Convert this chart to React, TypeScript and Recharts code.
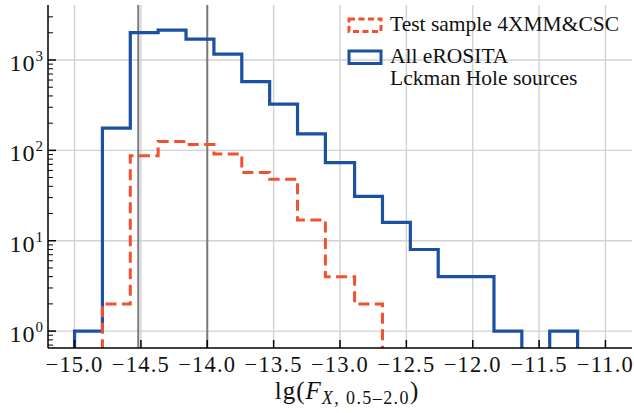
import { LineChart, Line, XAxis, YAxis, CartesianGrid, ReferenceLine, Legend } from 'recharts';

// histogram bin edges, lg(F_X, 0.5-2.0)
const binEdges = [
  -15.0, -14.79, -14.58, -14.37, -14.16, -13.95, -13.74, -13.53, -13.32, -13.11,
  -12.89, -12.68, -12.47, -12.26, -12.05, -11.84, -11.63, -11.42, -11.21, -11.0,
];
// counts per bin (19 bins)
const allCounts = [1, 176, 2010, 2140, 1700, 1160, 577, 324, 152, 73, 31, 16, 8, 4, 4, 1, 0, 1, 0];
const testCounts = [0, 2, 87, 125, 116, 91, 57, 48, 17, 4, 2, 0, 0, 0, 0, 0, 0, 0, 0];

const xTicks = [-15.0, -14.5, -14.0, -13.5, -13.0, -12.5, -12.0, -11.5, -11.0];
const yTicks = [
  0.7, 0.8, 0.9, 1, 2, 3, 4, 5, 6, 7, 8, 9, 10, 20, 30, 40, 50, 60, 70, 80, 90,
  100, 200, 300, 400, 500, 600, 700, 800, 900, 1000, 2000, 3000,
];
const yGrid = [1, 10, 100, 1000];
const markerLines = [-14.52, -14.0];

const xDomain = [-15.2, -10.8];
const yDomain = [0.65, 4060];
// zero bins drop below the log axis
const FLOOR = 0.1;

const rows = [
  { x: binEdges[0], all: FLOOR, test: FLOOR },
  ...binEdges.map((x, i) => ({
    x,
    all: allCounts[i] ? allCounts[i] : FLOOR,
    test: testCounts[i] ? testCounts[i] : FLOOR,
  })),
];

const serif = { fontFamily: "'Liberation Serif', 'DejaVu Serif', serif" };
const BLUE = '#1c50a0';
const RED = '#f2512f';

const seriesStyle: Record<string, { color: string; dash?: string }> = {
  test: { color: RED, dash: '6 3.5' },
  all: { color: BLUE },
};

function XTick({ x, y, payload }: any) {
  const label = payload.value.toFixed(1).replace('-', '\u2212');
  return (
    <g>
      <line x1={x} y1={y} x2={x} y2={y - 8} stroke="#000" strokeWidth={1.5} />
      <text x={x} y={y + 24} textAnchor="middle" style={{ ...serif, fontSize: 22.5, letterSpacing: 1.2 }} fill="#111">
        {label}
      </text>
    </g>
  );
}

function YTick({ x, y, payload }: any) {
  const exp = Math.log10(payload.value);
  const major = Math.abs(exp - Math.round(exp)) < 1e-6;
  if (!major) {
    return <line x1={x} y1={y} x2={x + 5} y2={y} stroke="#000" strokeWidth={1} />;
  }
  return (
    <g>
      <line x1={x} y1={y} x2={x + 8} y2={y} stroke="#000" strokeWidth={1.5} />
      <text x={x - 5} y={y + 11} textAnchor="end" style={serif} fill="#111">
        <tspan style={{ fontSize: 24, letterSpacing: 1 }}>10</tspan>
        <tspan style={{ fontSize: 15 }} dy={-10}>{Math.round(exp)}</tspan>
      </text>
    </g>
  );
}

function XLabel({ viewBox }: any) {
  const cx = viewBox.x + viewBox.width / 2 + 7;
  return (
    <text x={cx} y={viewBox.y + 51} textAnchor="middle" style={{ ...serif, fontSize: 25, letterSpacing: 1 }} fill="#111">
      <tspan>lg(</tspan>
      <tspan fontStyle="italic">F</tspan>
      <tspan style={{ fontSize: 18, letterSpacing: 1.4 }} fontStyle="italic" dy={5}>X</tspan>
      <tspan style={{ fontSize: 18, letterSpacing: 1.4 }}>, 0.5–2.0</tspan>
      <tspan dy={-5}>)</tspan>
    </text>
  );
}

function LegendBox({ payload }: any) {
  const items = [...(payload || [])].sort((a: any) => (a.dataKey === 'test' ? -1 : 1));
  let top = 9;
  return (
    <svg width={290} height={86} style={{ display: 'block' }}>
      {items.map((item: any) => {
        const st = seriesStyle[item.dataKey];
        const lines = String(item.value).split('\n');
        const y0 = top;
        top += 32;
        return (
          <g key={item.dataKey}>
            <rect x={4} y={y0} width={32} height={12.5} fill="none" stroke={st.color}
              strokeWidth={3} strokeDasharray={st.dash} />
            {lines.map((t, k) => (
              <text key={k} x={45} y={y0 + 12 + k * 22} style={{ ...serif, fontSize: 21.5 }} fill="#111">
                {t}
              </text>
            ))}
          </g>
        );
      })}
    </svg>
  );
}

export default function App() {
  return (
    <div style={{ position: 'absolute', left: 0, top: 0, width: 634, height: 413, background: '#fff' }}>
      <LineChart width={634} height={413} data={rows} margin={{ top: 5, right: 2, bottom: 0, left: 0 }}>
        <CartesianGrid stroke="#d2d2d2" strokeWidth={1.4} horizontalValues={yGrid} verticalValues={xTicks} />
        <XAxis
          dataKey="x"
          type="number"
          domain={xDomain}
          allowDataOverflow
          ticks={xTicks}
          interval={0}
          height={65}
          tickSize={0}
          tickMargin={0}
          tickLine={false}
          axisLine={{ stroke: '#000', strokeWidth: 1.5 }}
          tick={<XTick />}
          label={<XLabel />}
        />
        <XAxis
          xAxisId="top"
          orientation="top"
          type="number"
          domain={xDomain}
          allowDataOverflow
          height={0}
          tick={false}
          tickLine={false}
          axisLine={{ stroke: '#000', strokeWidth: 1.5 }}
        />
        <YAxis
          type="number"
          scale="log"
          domain={yDomain}
          allowDataOverflow
          ticks={yTicks}
          interval={0}
          width={48}
          tickSize={0}
          tickMargin={0}
          tickLine={false}
          axisLine={{ stroke: '#000', strokeWidth: 1.5 }}
          tick={<YTick />}
        />
        <YAxis
          yAxisId="right"
          orientation="right"
          type="number"
          scale="log"
          domain={yDomain}
          allowDataOverflow
          width={0}
          tick={false}
          tickLine={false}
          axisLine={{ stroke: '#000', strokeWidth: 1.5 }}
        />
        {markerLines.map((v) => (
          <ReferenceLine key={v} x={v} stroke="#7a7a7a" strokeWidth={2} />
        ))}
        <Line
          type="stepAfter"
          dataKey="all"
          name={'All eROSITA\nLckman Hole sources'}
          stroke={BLUE}
          strokeWidth={3.2}
          strokeLinejoin="miter"
          dot={false}
          activeDot={false}
          isAnimationActive={false}
        />
        <Line
          type="stepAfter"
          dataKey="test"
          name="Test sample 4XMM&CSC"
          stroke={RED}
          strokeWidth={3}
          strokeDasharray="11 5.5"
          strokeLinejoin="miter"
          dot={false}
          activeDot={false}
          isAnimationActive={false}
        />
        <Legend
          layout="horizontal"
          verticalAlign="middle"
          align="center"
          wrapperStyle={{ left: 345, top: 10, width: 290 }}
          content={<LegendBox />}
        />
      </LineChart>
    </div>
  );
}
